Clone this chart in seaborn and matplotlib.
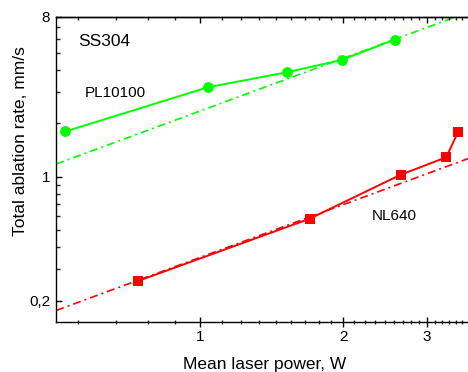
import numpy as np
import matplotlib
matplotlib.use("Agg")
import matplotlib.pyplot as plt
import seaborn as sns
from matplotlib.ticker import FixedLocator, FixedFormatter, NullFormatter

# ---- data ----
pl_x = [0.522, 1.041, 1.527, 1.985, 2.564]
pl_y = [1.80, 3.20, 3.89, 4.56, 5.94]
pl_fit_x = [0.5, 3.7]
pl_fit_y = [1.18, 8.57]

nl_x = [0.741, 1.70, 2.64, 3.29, 3.485]
nl_y = [0.2575, 0.579, 1.026, 1.287, 1.789]
nl_fit_x = [0.5, 3.7]
nl_fit_y = [0.176, 1.28]

x_major = [1, 2, 3]
x_major_labels = ["1", "2", "3"]
y_major = [0.2, 1, 8]
y_major_labels = ["0,2", "1", "8"]

xlabel = "Mean laser power, W"
ylabel = "Total ablation rate, mm/s"
title_text = "SS304"
pl_label = "PL10100"
nl_label = "NL640"

GREEN = "#00ff00"
RED = "#ff0000"

sns.set_style("ticks")
plt.rcParams["font.family"] = ["Liberation Sans", "DejaVu Sans"]

W, H = 468, 372
fig = plt.figure(figsize=(W / 100, H / 100), dpi=100)
ax_left, ax_right, ax_top, ax_bot = 56.3, 470.5, 16.7, 321.7
ax = fig.add_axes([ax_left / W, (H - ax_bot) / H, (ax_right - ax_left) / W, (ax_bot - ax_top) / H])

dash = (0, (4.8, 2.4, 1.2, 2.4))
sns.lineplot(x=pl_fit_x, y=pl_fit_y, ax=ax, color=GREEN, lw=1.2, linestyle=dash)
sns.lineplot(x=nl_fit_x, y=nl_fit_y, ax=ax, color=RED, lw=1.2, linestyle=dash)
sns.lineplot(x=pl_x, y=pl_y, ax=ax, color=GREEN, lw=1.4, marker="o", markersize=7.8,
             markeredgewidth=0, sort=False)
sns.lineplot(x=nl_x, y=nl_y, ax=ax, color=RED, lw=1.4, marker="s", markersize=7.2,
             markeredgewidth=0, sort=False)

ax.set_xscale("log")
ax.set_yscale("log")
ax.set_xlim(0.5, 3.7)
ax.set_ylim(0.152, 8)

x_minor = [k / 9 for k in range(5, 34) if k % 9 != 0]
y_minor = [0.3, 0.4, 0.5, 0.6, 0.7, 0.8, 0.9, 2, 3, 4, 5, 6, 7]

ax.xaxis.set_major_locator(FixedLocator(x_major))
ax.xaxis.set_major_formatter(FixedFormatter(x_major_labels))
ax.xaxis.set_minor_locator(FixedLocator(x_minor))
ax.xaxis.set_minor_formatter(NullFormatter())
ax.yaxis.set_major_locator(FixedLocator(y_major))
ax.yaxis.set_major_formatter(FixedFormatter(y_major_labels))
ax.yaxis.set_minor_locator(FixedLocator(y_minor))
ax.yaxis.set_minor_formatter(NullFormatter())

ax.tick_params(axis="x", which="major", direction="inout", length=7, width=1.0,
               labelsize=11, pad=2.5, colors="black")
ax.tick_params(axis="x", which="minor", direction="inout", length=3.5, width=1.0)
ax.tick_params(axis="y", which="major", direction="in", length=4.3, width=1.0,
               labelsize=11, pad=4.5, colors="black")
ax.tick_params(axis="y", which="minor", direction="in", length=2.9, width=1.0)

for s in ["left", "bottom", "top"]:
    ax.spines[s].set_color("black")
    ax.spines[s].set_linewidth(1.0)
ax.spines["right"].set_visible(False)

# top axis with inward ticks
ax2 = ax.twiny()
ax2.set_xscale("log")
ax2.set_xlim(ax.get_xlim())
ax2.xaxis.set_major_locator(FixedLocator(x_major))
ax2.xaxis.set_minor_locator(FixedLocator(x_minor))
ax2.xaxis.set_major_formatter(NullFormatter())
ax2.xaxis.set_minor_formatter(NullFormatter())
ax2.tick_params(axis="x", which="major", direction="in", length=4.5, width=1.0,
                top=True, bottom=False, labeltop=False, colors="black")
ax2.tick_params(axis="x", which="minor", direction="in", length=2.2, width=1.0,
                top=True, bottom=False)
for s in ["left", "bottom", "right"]:
    ax2.spines[s].set_visible(False)
ax2.spines["top"].set_color("black")
ax2.spines["top"].set_linewidth(1.0)

ax.set_xlabel(xlabel, fontsize=12.5, color="black")
ax.set_ylabel(ylabel, fontsize=12.5, color="black")
ax.xaxis.set_label_coords(0.503, -0.116)
ax.yaxis.set_label_coords(-0.068, 0.591)

ax.text(0.0524, 0.920, title_text, transform=ax.transAxes, fontsize=12.5,
        ha="left", va="center", color="black")
ax.text(0.0693, 0.749, pl_label, transform=ax.transAxes, fontsize=11,
        ha="left", va="center", color="black")
ax.text(0.762, 0.3466, nl_label, transform=ax.transAxes, fontsize=11,
        ha="left", va="center", color="black")

fig.savefig("out.png", dpi=100)
